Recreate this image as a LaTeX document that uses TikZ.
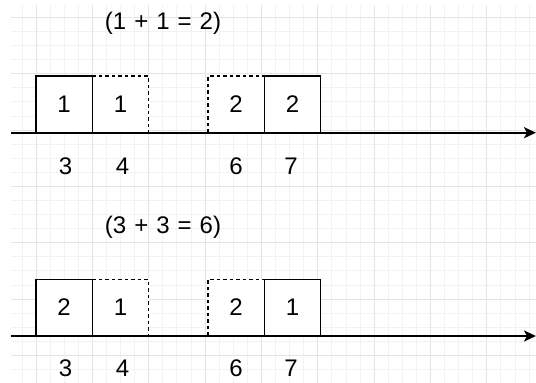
\documentclass[tikz,border=0pt]{standalone}
\usepackage{fontspec}
\setmainfont{Liberation Sans}
\usetikzlibrary{arrows.meta}
\definecolor{minorgrid}{HTML}{F2F2F2}
\definecolor{majorgrid}{HTML}{E4E4E4}
\newcommand{\gap}{\hspace{8pt}}
\begin{document}
\begin{tikzpicture}[x=1pt,y=-1pt,
  txt/.style={font=\fontsize{24}{28}\selectfont, inner sep=0pt},
  cellbox/.style={minimum width=56.3pt, minimum height=56.5pt, inner sep=0pt, outer sep=0pt, anchor=north west, fill=white, txt},
  solidbox/.style={cellbox, draw=black, line width=1.2pt},
  dashedge/.style={draw=black, line width=1.2pt, dash pattern=on 3.5pt off 3pt},
  axis/.style={draw=black, line width=2.2pt, -{Stealth[length=12pt,width=11pt,inset=3pt]}}
]
\useasboundingbox (0,0) rectangle (536,383);
% grid
\begin{scope}
  \clip (11,5) rectangle (536,383);
  \foreach \k in {-1,...,35} {
    \draw[minorgrid, line width=0.8pt] ({36+14.0875*\k},5) -- ({36+14.0875*\k},383);
  }
  \foreach \k in {0,...,25} {
    \draw[minorgrid, line width=0.8pt] (11,{17.3+14.0875*\k}) -- (536,{17.3+14.0875*\k});
  }
  \foreach \k in {0,...,8} {
    \draw[majorgrid, line width=0.9pt] ({36+56.35*\k},5) -- ({36+56.35*\k},383);
  }
  \foreach \k in {0,...,6} {
    \draw[majorgrid, line width=0.9pt] (11,{17.3+56.35*\k}) -- (536,{17.3+56.35*\k});
  }
\end{scope}

% ---------- first group ----------
\node[txt] (t1) at (163,23.5) {(1\gap+\gap1\gap=\gap2)};
\node[cellbox] (a2) at (92.3,76) {1};
\node[cellbox] (a3) at (208,76) {2};
\draw[dashedge] (a2.north west) -- (a2.north east) -- (a2.south east);
\draw[dashedge] (a3.south west) -- (a3.north west) -- (a3.north east);
\node[solidbox] (a1) at (36,76) {1};
\node[solidbox] (a4) at (264.3,76) {2};
\coordinate (axs1) at (11,132.7);
\coordinate (axe1) at (536,132.7);
\draw[axis] (axs1) -- (axe1);
\node[txt] (l1a) at (65.5,166) {3};
\node[txt] (l1b) at (122.5,166) {4};
\node[txt] (l1c) at (236,166) {6};
\node[txt] (l1d) at (291,166) {7};

% ---------- second group ----------
\node[txt] (t2) at (163,227) {(3\gap+\gap3\gap=\gap6)};
\node[cellbox] (b2) at (92.3,279.3) {1};
\node[cellbox] (b3) at (208,279.3) {2};
\draw[dashedge] (b2.north west) -- (b2.north east) -- (b2.south east);
\draw[dashedge] (b3.south west) -- (b3.north west) -- (b3.north east);
\node[solidbox] (b1) at (36,279.3) {2};
\node[solidbox] (b4) at (264.3,279.3) {1};
\coordinate (axs2) at (11,336);
\coordinate (axe2) at (536,336);
\draw[axis] (axs2) -- (axe2);
\node[txt] (l2a) at (65.5,368) {3};
\node[txt] (l2b) at (122.5,368) {4};
\node[txt] (l2c) at (236,368) {6};
\node[txt] (l2d) at (291,368) {7};
\end{tikzpicture}
\end{document}
